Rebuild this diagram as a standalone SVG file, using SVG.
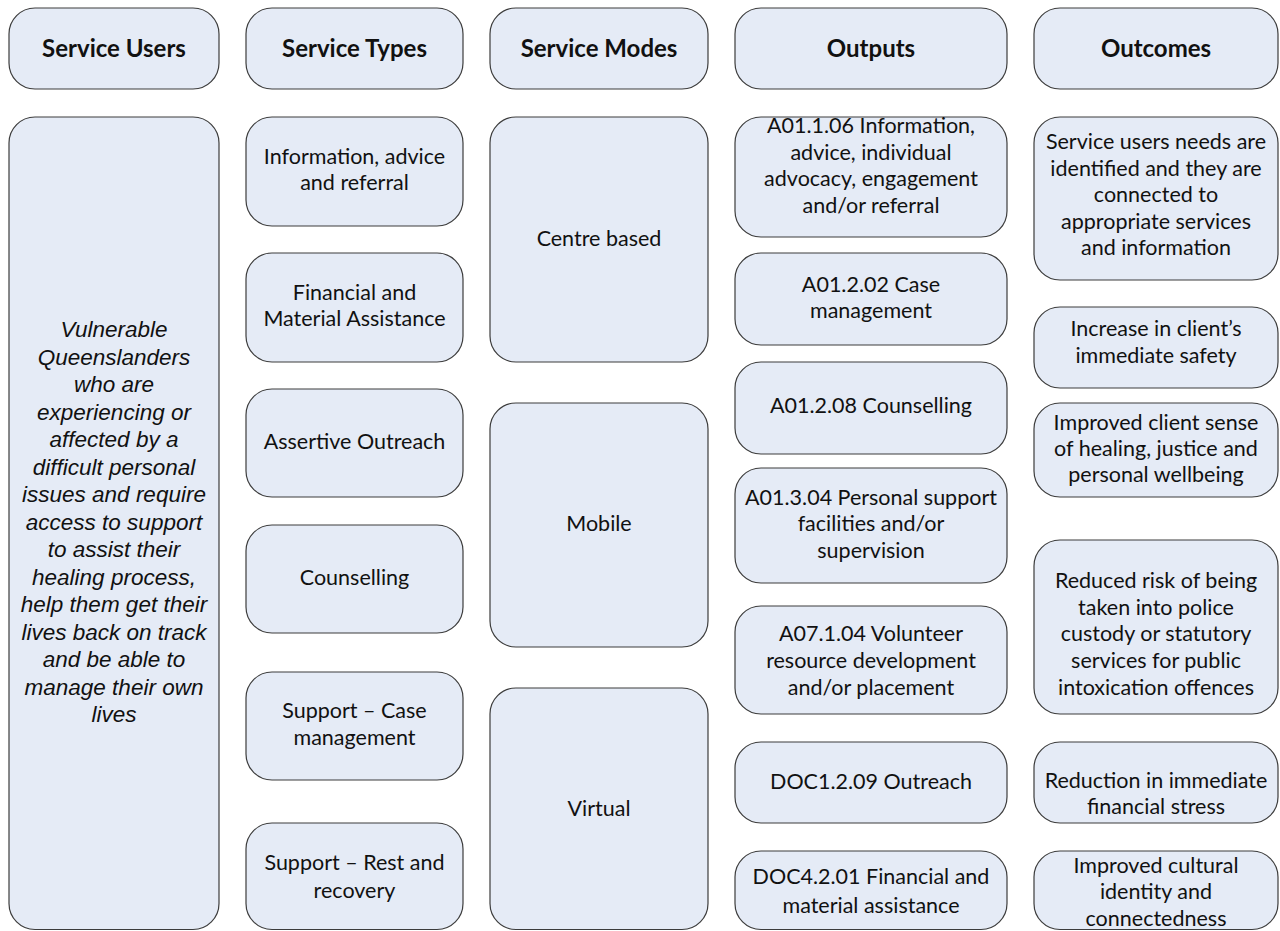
<svg xmlns="http://www.w3.org/2000/svg" width="1280" height="931" viewBox="0 0 1280 931">
<style>
.b{fill:#E5EBF6;stroke:#3c3c3c;stroke-width:1.2}
.t{font-family:Lato,"Liberation Sans",sans-serif;font-size:21.5px;fill:#111;text-anchor:middle}
.h{font-family:Lato,"Liberation Sans",sans-serif;font-size:24px;font-weight:bold;fill:#111;text-anchor:middle}
.i{font-family:"Liberation Sans",Arial,sans-serif;font-size:22.5px;font-style:italic;fill:#111;text-anchor:middle}
</style>
<rect width="1280" height="931" fill="#fff"/>
<g id="connectors"/>
<g id="h-users"><rect class="b" x="9" y="8" width="210" height="81" rx="26"/><text class="h" x="114" y="57">Service Users</text></g>
<g id="h-types"><rect class="b" x="246" y="8" width="217" height="81" rx="26"/><text class="h" x="354.5" y="57">Service Types</text></g>
<g id="h-modes"><rect class="b" x="490" y="8" width="218" height="81" rx="26"/><text class="h" x="599" y="57">Service Modes</text></g>
<g id="h-outputs"><rect class="b" x="735" y="8" width="272" height="81" rx="26"/><text class="h" x="871" y="57">Outputs</text></g>
<g id="h-outcomes"><rect class="b" x="1034" y="8" width="244" height="81" rx="26"/><text class="h" x="1156" y="57">Outcomes</text></g>

<g id="users"><rect class="b" x="9" y="117" width="210" height="812.5" rx="26"/>
<text class="i" x="114"><tspan x="114" y="337">Vulnerable</tspan><tspan x="114" y="364.5">Queenslanders</tspan><tspan x="114" y="392">who are</tspan><tspan x="114" y="419.5">experiencing or</tspan><tspan x="114" y="447">affected by a</tspan><tspan x="114" y="474.5">difficult personal</tspan><tspan x="114" y="502">issues and require</tspan><tspan x="114" y="529.5">access to support</tspan><tspan x="114" y="557">to assist their</tspan><tspan x="114" y="584.5">healing process,</tspan><tspan x="114" y="612">help them get their</tspan><tspan x="114" y="639.5">lives back on track</tspan><tspan x="114" y="667">and be able to</tspan><tspan x="114" y="694.5">manage their own</tspan><tspan x="114" y="722">lives</tspan></text></g>

<g id="type1"><rect class="b" x="246" y="117" width="217" height="109" rx="26"/><text class="t"><tspan x="354.5" y="164">Information, advice</tspan><tspan x="354.5" y="190">and referral</tspan></text></g>
<g id="type2"><rect class="b" x="246" y="253" width="217" height="109" rx="26"/><text class="t"><tspan x="354.5" y="300">Financial and</tspan><tspan x="354.5" y="326">Material Assistance</tspan></text></g>
<g id="type3"><rect class="b" x="246" y="389" width="217" height="108" rx="26"/><text class="t" x="354.5" y="449">Assertive Outreach</text></g>
<g id="type4"><rect class="b" x="246" y="525" width="217" height="108" rx="26"/><text class="t" x="354.5" y="585">Counselling</text></g>
<g id="type5"><rect class="b" x="246" y="672" width="217" height="108" rx="26"/><text class="t"><tspan x="354.5" y="718">Support – Case</tspan><tspan x="354.5" y="745">management</tspan></text></g>
<g id="type6"><rect class="b" x="246" y="823" width="217" height="106.5" rx="26"/><text class="t"><tspan x="354.5" y="870">Support – Rest and</tspan><tspan x="354.5" y="898">recovery</tspan></text></g>

<g id="mode1"><rect class="b" x="490" y="117" width="218" height="245" rx="26"/><text class="t" x="599" y="245.5">Centre based</text></g>
<g id="mode2"><rect class="b" x="490" y="403" width="218" height="244" rx="26"/><text class="t" x="599" y="531">Mobile</text></g>
<g id="mode3"><rect class="b" x="490" y="688" width="218" height="241.5" rx="26"/><text class="t" x="599" y="816">Virtual</text></g>

<g id="out1"><rect class="b" x="735" y="117" width="272" height="120" rx="26"/><text class="t"><tspan x="871" y="133">A01.1.06 Information,</tspan><tspan x="871" y="159.5">advice, individual</tspan><tspan x="871" y="186">advocacy, engagement</tspan><tspan x="871" y="212.5">and/or referral</tspan></text></g>
<g id="out2"><rect class="b" x="735" y="253" width="272" height="92" rx="26"/><text class="t"><tspan x="871" y="291.5">A01.2.02 Case</tspan><tspan x="871" y="317.5">management</tspan></text></g>
<g id="out3"><rect class="b" x="735" y="362" width="272" height="92" rx="26"/><text class="t" x="871" y="413">A01.2.08 Counselling</text></g>
<g id="out4"><rect class="b" x="735" y="468" width="272" height="115" rx="26"/><text class="t"><tspan x="871" y="504.5">A01.3.04 Personal support</tspan><tspan x="871" y="531">facilities and/or</tspan><tspan x="871" y="557.5">supervision</tspan></text></g>
<g id="out5"><rect class="b" x="735" y="606" width="272" height="108" rx="26"/><text class="t"><tspan x="871" y="641">A07.1.04 Volunteer</tspan><tspan x="871" y="668">resource development</tspan><tspan x="871" y="695">and/or placement</tspan></text></g>
<g id="out6"><rect class="b" x="735" y="742" width="272" height="81" rx="26"/><text class="t" x="871" y="789">DOC1.2.09 Outreach</text></g>
<g id="out7"><rect class="b" x="735" y="851" width="272" height="78.5" rx="26"/><text class="t"><tspan x="871" y="884">DOC4.2.01 Financial and</tspan><tspan x="871" y="913">material assistance</tspan></text></g>

<g id="oc1"><rect class="b" x="1034" y="117" width="244" height="163" rx="26"/><text class="t"><tspan x="1156" y="149">Service users needs are</tspan><tspan x="1156" y="175.5">identified and they are</tspan><tspan x="1156" y="202">connected to</tspan><tspan x="1156" y="228.5">appropriate services</tspan><tspan x="1156" y="255">and information</tspan></text></g>
<g id="oc2"><rect class="b" x="1034" y="307" width="244" height="81" rx="26"/><text class="t"><tspan x="1156" y="336">Increase in client’s</tspan><tspan x="1156" y="363">immediate safety</tspan></text></g>
<g id="oc3"><rect class="b" x="1034" y="403" width="244" height="94" rx="26"/><text class="t"><tspan x="1156" y="430">Improved client sense</tspan><tspan x="1156" y="456">of healing, justice and</tspan><tspan x="1156" y="482">personal wellbeing</tspan></text></g>
<g id="oc4"><rect class="b" x="1034" y="540" width="244" height="174" rx="26"/><text class="t"><tspan x="1156" y="588">Reduced risk of being</tspan><tspan x="1156" y="615">taken into police</tspan><tspan x="1156" y="641">custody or statutory</tspan><tspan x="1156" y="668">services for public</tspan><tspan x="1156" y="695">intoxication offences</tspan></text></g>
<g id="oc5"><rect class="b" x="1034" y="742" width="244" height="81" rx="26"/><text class="t"><tspan x="1156" y="788">Reduction in immediate</tspan><tspan x="1156" y="814">financial stress</tspan></text></g>
<g id="oc6"><rect class="b" x="1034" y="851" width="244" height="78.5" rx="26"/><text class="t"><tspan x="1156" y="873">Improved cultural</tspan><tspan x="1156" y="899">identity and</tspan><tspan x="1156" y="926">connectedness</tspan></text></g>
</svg>
